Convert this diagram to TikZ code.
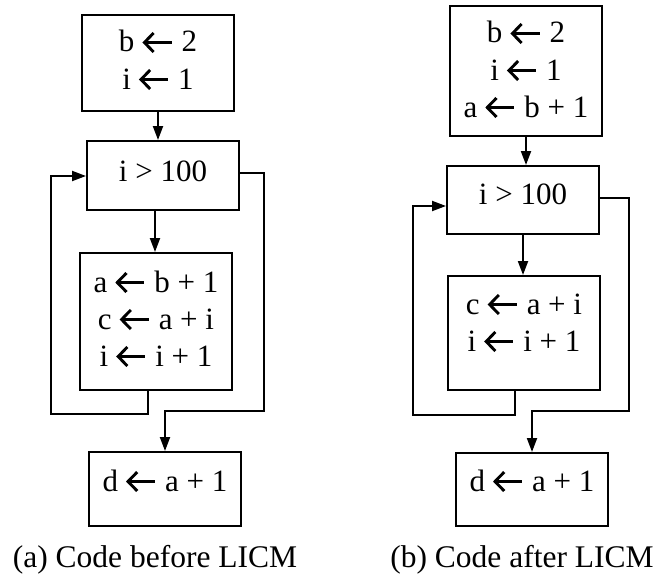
\documentclass[tikz,border=0pt]{standalone}
\usepackage{fontspec}
\setmainfont{Liberation Serif}
\usetikzlibrary{arrows.meta,calc}
\newcommand\la{\hspace{8.5pt}\tikz[baseline=0pt]{\draw[line width=2.9pt,line join=miter,line cap=butt] (11pt,19pt) -- (1.8pt,9.5pt) -- (11pt,0pt); \draw[line width=2.9pt] (1.8pt,9.5pt) -- (29pt,9.5pt);}\hspace{8.5pt}}
\begin{document}
\begin{tikzpicture}[x=1pt,y=-1pt,
  box/.style={draw,line width=2pt,rectangle,inner sep=0pt,minimum width=152pt},
  txt/.style={inner sep=0pt,anchor=base,font=\fontsize{31}{37}\selectfont},
  captxt/.style={inner sep=0pt,anchor=base,font=\fontsize{31.5}{37}\selectfont},
  conn/.style={line width=2pt},
  arr/.style={line width=2pt,-{Triangle[length=14pt,width=10pt]}}]
\useasboundingbox (0,0) rectangle (660,578);
% ---------- left diagram ----------
\node[box,minimum height=96pt]  (L1) at (158,63) {};
\node[box,minimum height=69pt]  (L2) at (163,175.5) {};
\node[box,minimum height=137pt] (L3) at (156,321.5) {};
\node[box,minimum height=74pt]  (L4) at (165,489) {};
\node[txt] (L1t) at ($(L1.north)+(0,38)$) {\begin{tabular}[t]{@{}c@{}}b\la 2\\ i\la 1\end{tabular}};
\node[txt] (L2t) at ($(L2.north)+(0,41)$) {i > 100};
\node[txt] (L3t) at ($(L3.north)+(0,40)$) {\begin{tabular}[t]{@{}c@{}}a\la b + 1\\ c\la a + i\\ i\la i + 1\end{tabular}};
\node[txt] (L4t) at ($(L4.north)+(0,40)$) {d\la a + 1};
\draw[arr] (L1.south) -- (L2.north -| L1.south);
\coordinate (LzA) at (155,0);
\draw[arr] (L2.south -| LzA) -- (L3.north -| LzA);
\coordinate (LxA) at (148,414);
\coordinate (LxB) at (51,414);
\coordinate (LxC) at (51,176);
\draw[arr] (L3.south -| LxA) -- (LxA) -- (LxB) -- (LxC) -- (L2.west |- LxC);
\coordinate (LyA) at (264,173);
\coordinate (LyB) at (264,411);
\coordinate (LyC) at (165,411);
\draw[arr] (L2.east |- LyA) -- (LyA) -- (LyB) -- (LyC) -- (L4.north);
\node[captxt] (Lc) at (155,567) {(a) Code before LICM};
% ---------- right diagram ----------
\node[box,minimum height=130pt] (R1) at (526,71) {};
\node[box,minimum height=68pt]  (R2) at (523,200) {};
\node[box,minimum height=114pt] (R3) at (524,333) {};
\node[box,minimum height=73pt]  (R4) at (532,489.5) {};
\node[txt] (R1t) at ($(R1.north)+(0,38)$) {\begin{tabular}[t]{@{}c@{}}b\la 2\\ i\la 1\\ a\la b + 1\end{tabular}};
\node[txt] (R2t) at ($(R2.north)+(0,39)$) {i > 100};
\node[txt] (R3t) at ($(R3.north)+(0,39)$) {\begin{tabular}[t]{@{}c@{}}c\la a + i\\ i\la i + 1\end{tabular}};
\node[txt] (R4t) at ($(R4.north)+(0,39)$) {d\la a + 1};
\draw[arr] (R1.south) -- (R2.north -| R1.south);
\draw[arr] (R2.south) -- (R3.north -| R2.south);
\coordinate (RxA) at (515,415);
\coordinate (RxB) at (413,415);
\coordinate (RxC) at (413,206);
\draw[arr] (R3.south -| RxA) -- (RxA) -- (RxB) -- (RxC) -- (R2.west |- RxC);
\coordinate (RyA) at (629,198);
\coordinate (RyB) at (629,411);
\coordinate (RyC) at (532,411);
\draw[arr] (R2.east |- RyA) -- (RyA) -- (RyB) -- (RyC) -- (R4.north);
\node[captxt] (Rc) at (522,567) {(b) Code after LICM};
\end{tikzpicture}
\end{document}
